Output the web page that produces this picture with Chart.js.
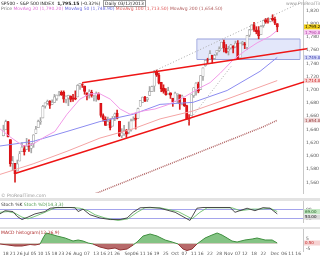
<!DOCTYPE html>
<html>
<head>
<meta charset="utf-8">
<script src="https://cdn.jsdelivr.net/npm/chart.js@4.4.1/dist/chart.umd.min.js"></script>
<style>
body { margin: 0; width: 320px; height: 256px; background: #fff; position: relative; overflow: hidden; font-family: 'DejaVu Sans', sans-serif; }
canvas { position: absolute; left: 0; }
.sep { position: absolute; left: 0; width: 320px; background: #e3e3e3; }
.txt { position: absolute; font-size: 4.5px; line-height: 5px; white-space: nowrap; }
</style>
</head>
<body>
<canvas id="main" width="320" height="198" style="top:0"></canvas>
<div class="sep" style="top:198px;height:3px"></div>
<canvas id="stoch" width="320" height="26" style="top:201px"></canvas>
<div class="sep" style="top:227px;height:2px"></div>
<canvas id="macd" width="320" height="27" style="top:229px"></canvas>

<div class="txt" style="top:1px;left:1px;color:#222">SP500 - S&amp;P 500 INDEX &nbsp;<b>1,795.15</b> (-0.32%) &nbsp;<span style="border:0.5px solid #999;padding:0 1px">Daily 03/12/2013</span></div>
<div class="txt" style="top:6px;left:1px"><span style="color:#777">Price</span> <span style="color:#e070d8">MovAvg 20 (1,790.20)</span> <span style="color:#6a6ae0">MovAvg 50 (1,748.90)</span> <span style="color:#e05858">MovAvg 100 (1,713.50)</span> <span style="color:#b05a5a">MovAvg 200 (1,654.50)</span></div>
<div class="txt" style="top:1px;left:286px;color:#999">www.ProRealTime.com</div>
<div class="txt" style="top:193px;left:1px;color:#999">&copy; ProRealTime.com</div>
<div class="txt" style="top:202px;left:1px"><span style="color:#333">Stoch %K</span> <span style="color:#4a9a4a">Stoch %D(14,3,3)</span></div>
<div class="txt" style="top:230px;left:1px;color:#b03030">MACD histogram(12,26,9)</div>

<script>
// day index 0 = 17 Jun 2013, last candle = 3 Dec 2013
const xMin = -1.47;
const xMax = 129.1;

const openP = [
  1630.6, 1639.8, 1651.8, 1624.6, 1588.6, 1588.8, 1577.5, 1592.3, 1606.4, 1611.1,
  1609.8, 1614.3, 1611.5, 1618.7, 1634.2, 1642.9, 1651.6, 1657.4, 1675.3, 1679.6, 1682.7, 1677.9, 1681.0, 1686.2, 1694.4, 1696.1, 1696.1, 1685.2, 1687.3, 1690.3, 1687.9, 1687.8,
  1689.4, 1706.1, 1708.0, 1705.8, 1695.3, 1693.4, 1696.1, 1688.4, 1690.7, 1693.9, 1679.6, 1661.2, 1655.3, 1646.8, 1650.7, 1645.0, 1659.9, 1664.3, 1652.5, 1630.3, 1633.5, 1638.9,
  1635.9, 1638.8, 1653.3, 1657.4, 1656.9, 1675.1, 1681.0, 1689.2, 1685.0, 1691.7, 1697.7, 1705.7, 1727.3, 1722.4, 1711.4, 1702.6, 1698.0, 1694.1, 1695.5, 1687.3,
  1682.4, 1691.9, 1692.4, 1678.8, 1687.2, 1676.2, 1657.0, 1660.9, 1691.1, 1699.9, 1709.2, 1700.5, 1720.2, 1736.7, 1745.2, 1746.5, 1752.3, 1747.5, 1756.0, 1759.4, 1762.9, 1772.3, 1763.2,
  1758.7, 1763.4, 1765.7, 1765.0, 1770.7, 1748.4, 1770.0, 1769.5, 1764.4, 1782.8, 1790.7, 1798.8, 1790.8, 1789.6, 1783.5, 1797.2, 1806.3, 1802.9, 1803.5, 1808.0,
  1806.6, 1800.1
];
const highP = [
  1646.5, 1654.2, 1652.5, 1624.6, 1599.2, 1588.8, 1593.8, 1606.8, 1620.1, 1615.9,
  1626.6, 1624.3, 1619.0, 1632.1, 1644.7, 1654.2, 1657.9, 1676.6, 1680.2, 1684.5, 1683.7, 1684.8, 1693.1, 1692.1, 1697.6, 1698.4, 1698.4, 1690.9, 1691.9, 1690.9, 1693.2, 1698.4,
  1707.9, 1709.7, 1709.2, 1705.8, 1695.3, 1700.2, 1699.4, 1691.5, 1696.8, 1695.5, 1679.6, 1663.6, 1659.2, 1658.9, 1656.0, 1659.6, 1664.9, 1669.5, 1652.5, 1641.2, 1646.4, 1640.1,
  1651.4, 1655.7, 1659.2, 1664.8, 1672.4, 1684.1, 1689.1, 1690.0, 1688.7, 1705.0, 1705.5, 1729.4, 1729.9, 1725.2, 1711.4, 1707.6, 1701.7, 1703.9, 1695.5, 1687.3,
  1696.6, 1693.9, 1692.4, 1691.9, 1687.2, 1676.8, 1662.6, 1692.6, 1703.4, 1711.0, 1711.6, 1721.8, 1733.4, 1745.3, 1747.8, 1759.3, 1752.3, 1753.7, 1759.8, 1765.0, 1772.1, 1775.2, 1768.5,
  1765.7, 1768.8, 1767.0, 1773.7, 1774.5, 1770.8, 1773.4, 1771.8, 1782.0, 1791.5, 1798.2, 1802.3, 1795.5, 1795.7, 1797.2, 1804.8, 1808.1, 1808.4, 1808.3, 1813.6,
  1810.0, 1800.1
];
const lowP = [
  1630.3, 1639.8, 1628.9, 1584.3, 1577.7, 1560.3, 1577.1, 1592.3, 1606.4, 1601.3,
  1609.8, 1606.8, 1604.6, 1613.0, 1634.2, 1642.9, 1647.7, 1657.4, 1672.3, 1677.9, 1671.8, 1677.9, 1681.0, 1684.1, 1690.7, 1691.5, 1681.0, 1680.2, 1676.0, 1681.9, 1682.4, 1684.9,
  1689.4, 1700.7, 1703.6, 1693.3, 1684.9, 1687.4, 1689.0, 1683.4, 1682.6, 1684.8, 1658.6, 1652.6, 1646.1, 1646.8, 1639.4, 1645.0, 1653.3, 1656.0, 1629.1, 1627.5, 1630.9, 1628.0,
  1633.4, 1637.4, 1653.1, 1640.6, 1656.9, 1675.1, 1681.0, 1682.0, 1682.2, 1691.7, 1697.7, 1697.5, 1720.2, 1708.9, 1697.1, 1694.9, 1691.9, 1693.1, 1687.0, 1675.0,
  1682.1, 1680.3, 1670.4, 1677.3, 1674.7, 1655.0, 1646.5, 1660.9, 1688.5, 1692.1, 1695.5, 1700.5, 1714.1, 1735.7, 1740.6, 1746.5, 1740.5, 1745.5, 1752.5, 1757.7, 1762.9, 1757.2, 1755.7,
  1752.7, 1761.6, 1755.8, 1764.2, 1746.2, 1747.6, 1767.6, 1762.3, 1760.6, 1780.2, 1790.7, 1788.4, 1784.7, 1777.2, 1783.5, 1794.7, 1800.6, 1800.8, 1802.8, 1804.0,
  1798.6, 1787.9
];
const closeP = [
  1639.0, 1651.8, 1628.9, 1588.2, 1592.4, 1573.1, 1588.0, 1603.3, 1613.2, 1606.3,
  1615.0, 1614.1, 1615.4, 1631.9, 1640.5, 1652.3, 1652.6, 1675.0, 1680.2, 1682.5, 1676.3, 1680.9, 1689.4, 1692.1, 1695.5, 1692.4, 1685.9, 1690.3, 1691.7, 1685.3, 1686.0, 1685.7,
  1706.9, 1709.7, 1707.1, 1697.4, 1690.9, 1697.5, 1691.4, 1689.5, 1694.2, 1685.4, 1661.3, 1655.8, 1646.1, 1652.4, 1642.8, 1657.0, 1663.5, 1656.8, 1630.5, 1635.0, 1638.2, 1633.0,
  1639.8, 1653.1, 1655.1, 1655.2, 1671.7, 1684.0, 1689.1, 1683.4, 1688.0, 1697.6, 1704.8, 1725.5, 1722.3, 1709.9, 1701.8, 1697.4, 1692.8, 1698.7, 1691.8, 1681.6,
  1695.0, 1693.9, 1678.7, 1690.5, 1676.1, 1655.5, 1656.4, 1692.6, 1703.2, 1710.1, 1698.1, 1721.5, 1733.2, 1744.5, 1744.7, 1754.7, 1746.4, 1752.1, 1759.8, 1762.1, 1772.0, 1763.3, 1756.5,
  1761.6, 1767.9, 1763.0, 1770.5, 1747.2, 1770.6, 1771.9, 1767.7, 1782.0, 1790.6, 1798.2, 1791.5, 1787.9, 1781.4, 1795.9, 1804.8, 1802.5, 1802.8, 1807.2, 1805.8,
  1800.9, 1795.2
];

// moving averages (day index / value)
const ma20X = [-1.5, 2.8, 8.5, 12.8, 17.9, 22.2, 27.4, 33.0, 37.3, 41.6, 46.0, 50.3, 54.6, 60.2, 65.3, 70.5, 77.4, 84.7, 89.1, 93.4, 98.9, 104.1, 109.3, 114.9, 118];
const ma20Y = [1641, 1629, 1615, 1618, 1629, 1637, 1663, 1686, 1694, 1694, 1686, 1671, 1663, 1668, 1671, 1677, 1688, 1703, 1711, 1725, 1745, 1759, 1771, 1781, 1790];
const ma50X = [-1.5, 12.8, 27.4, 41.6, 55.9, 67.5, 81.7, 96.4, 110.6, 118];
const ma50Y = [1615, 1622, 1637, 1652, 1663, 1678, 1681, 1699, 1728, 1749];
const ma100X = [-1.5, 12.8, 27.4, 41.6, 55.9, 67.5, 81.7, 96.4, 118];
const ma100Y = [1572, 1588, 1607, 1627, 1641, 1656, 1668, 1686, 1714];
const ma200X = [38.2, 67.5, 111.9, 118];
const ma200Y = [1541, 1582, 1644, 1654];

// drawn trendlines: [day index, price]
const supportLine = [[5, 1573.4], [130.9, 1713.5]];
const resistLine = [[33.9, 1710.6], [130.9, 1762.2]];
const channelDots = [[64.9, 1728.3], [127.8, 1831.5]];
const rallyDots = [[79.6, 1651.6], [98.5, 1737.1]];
const zoneX = [83.4, 127.8];
const zoneY = [1745.9, 1776.9];

// stochastic
const kX = [-1.5, 0.7, 4.1, 5.9, 8.0, 10.6, 13.6, 17.9, 20.1, 23.1, 28.7, 30.9, 32.2, 34.3, 37.3, 41.6, 46.0, 50.3, 53.3, 55.9, 58.9, 63.2, 67.5, 74.0, 79.1, 80.4, 83.4, 86.0, 97.7, 99.8, 105.0, 108.4, 111.9, 114.9, 118];
const kY = [53, 75, 69, 36, 14, 31, 53, 69, 92, 97, 97, 95, 69, 86, 47, 25, 14, 14, 25, 64, 95, 98, 92, 64, 19, 8, 92, 97, 97, 64, 92, 75, 96, 92, 53];
const dX = [-1.5, 2, 5, 8, 10.6, 13.6, 17.9, 22.2, 29.6, 33, 36.5, 39.5, 43.8, 49.4, 53.7, 57.6, 61, 67.5, 75.3, 81.3, 84.7, 87.8, 98.5, 102, 107.2, 110.6, 114.9, 118];
const dY = [64, 69, 58, 31, 19, 36, 64, 95, 97, 92, 75, 47, 25, 8, 19, 64, 95, 95, 69, 19, 64, 95, 95, 75, 86, 86, 92, 69];

// MACD histogram
const histX = [-1.5, 2.0, 5.0, 8.0, 11.5, 13.6, 15.8, 17.1, 18.4, 20.1, 23.1, 26.6, 30.0, 32.2, 34.3, 36.5, 38.6, 41.6, 45.1, 48.1, 50.3, 53.3, 55.9, 57.6, 60.2, 63.2, 66.2, 69.7, 72.7, 75.3, 77.4, 79.1, 81.3, 83.4, 86.9, 89.9, 92.1, 94.2, 96.4, 98.5, 100.7, 104.1, 107.2, 109.3, 112.8, 115.8, 118];
const histY = [-0.5, -1.5, -2.5, -2.5, -1, -1.5, -0.5, 5.5, 10.5, 9.5, 7.5, 5.5, 2.5, 3.5, 2.5, 0.5, -0.5, -3.5, -5.5, -4.5, -6.5, -5.5, -1.5, 1.5, 7.5, 9.5, 7.5, 3.5, 1.5, -0.5, -5.5, -7, -5.5, -0.5, 5.5, 8.5, 10.5, 8.5, 5.5, 2.5, 1.5, 3.5, 4.5, 5.5, 3.5, 3.5, 0.5];

// axis ticks
const priceTicks = [1560, 1580, 1600, 1620, 1640, 1660, 1680, 1700, 1720, 1740, 1760, 1780, 1800, 1820];
const stochTicks = [20, 80];
const macdTicks = [-5, 0, 5, 10];
const tickIdx = [1, 4, 7, 10, 13, 16, 19, 22, 25, 28, 32, 36, 40, 43, 46, 49, 54, 57, 60, 63, 66, 70, 74, 78, 82, 85, 89, 93, 97, 101, 104, 108, 112, 117, 121, 124, 127];
const tickText = ['18', '21', '26', 'Jul', '05', '10', '15', '18', '23', '26', 'Aug', '07', '13', '16', '21', '26', 'Sep', '06', '11', '16', '19', '25', 'Oct', '07', '11', '16', '22', '28', 'Nov', '07', '12', '18', '22', 'Dec', '06', '11', '16'];

const fmt = v => v.toLocaleString('en-US', { minimumFractionDigits: 2, maximumFractionDigits: 2 });
const pts = (xs, ys) => xs.map((x, k) => ({ x: x, y: ys[k] }));
const seg = arr => arr.map(p => ({ x: p[0], y: p[1] }));
const isUp = i => closeP[i] >= openP[i];
const tickFont = { size: 4.5, family: 'DejaVu Sans' };

// coloured value boxes on the right axis
const valueBoxes = {
  id: 'valueBoxes',
  afterDraw(chart, args, opts) {
    const y = chart.scales.y;
    const c = chart.ctx;
    const items = (opts.items || []).map(b => ({ ...b, py: y.getPixelForValue(b.v) })).sort((a, b) => a.py - b.py);
    let last = -99;
    c.save();
    c.font = '4px "DejaVu Sans"';
    c.textBaseline = 'middle';
    items.forEach(b => {
      const py = Math.max(b.py, last + 5.5);
      last = py;
      c.fillStyle = b.bg;
      c.fillRect(chart.chartArea.right + 1, py - 2.5, 16, 5);
      c.fillStyle = b.fg;
      c.fillText(fmt(b.v), chart.chartArea.right + 2, py + 0.3);
    });
    c.restore();
  }
};

function xAxis(show) {
  return {
    type: 'linear', min: xMin, max: xMax, offset: false, display: show,
    grid: { display: false, drawTicks: false },
    border: { display: false },
    afterBuildTicks: s => { s.ticks = tickIdx.map(v => ({ value: v })); },
    afterFit: s => { s.height = 5; s.paddingLeft = 0; s.paddingRight = 0; },
    ticks: { autoSkip: false, maxRotation: 0, minRotation: 0, padding: 0.5, font: tickFont, color: '#555',
      callback: (v, i) => tickText[i] }
  };
}

function yAxis(min, max, ticks, label, grid) {
  return {
    position: 'right', min: min, max: max,
    grid: grid || { display: false, drawTicks: false },
    border: { color: '#c8c8c8' },
    afterBuildTicks: s => { s.ticks = ticks.map(v => ({ value: v })); },
    afterFit: s => { s.width = 17; s.paddingTop = 0; s.paddingBottom = 0; },
    ticks: { font: tickFont, color: '#555', padding: 3, callback: label }
  };
}

const baseOpts = {
  responsive: false,
  animation: false,
  devicePixelRatio: 1,
  layout: { padding: 0 },
  events: []
};

new Chart(document.getElementById('main'), {
  type: 'bar',
  data: {
    datasets: [
      { type: 'line', data: seg(supportLine), borderColor: '#ee1515', borderWidth: 1.6, pointRadius: 0, order: 0, clip: { left: 0, top: 0, right: 4, bottom: 0 } },
      { type: 'line', data: seg(resistLine), borderColor: '#ee1515', borderWidth: 1.6, pointRadius: 0, order: 0, clip: { left: 0, top: 0, right: 4, bottom: 0 } },
      { type: 'line', data: seg(channelDots), borderColor: '#a8a8a8', borderWidth: 1, borderDash: [1, 2], pointRadius: 0, order: 0 },
      { type: 'line', data: seg(rallyDots), borderColor: '#a8a8a8', borderWidth: 1, borderDash: [1, 2], pointRadius: 0, order: 0 },
      { type: 'line', data: pts(ma20X, ma20Y), borderColor: '#f29ae8', borderWidth: 1, pointRadius: 0, order: 1 },
      { type: 'line', data: pts(ma50X, ma50Y), borderColor: '#8c8cf0', borderWidth: 1, pointRadius: 0, order: 1 },
      { type: 'line', data: pts(ma100X, ma100Y), borderColor: '#f4a4a4', borderWidth: 1, pointRadius: 0, order: 1 },
      { type: 'line', data: pts(ma200X, ma200Y), borderColor: '#b06262', borderWidth: 1.5, borderDash: [1, 1], pointRadius: 0, order: 1 },
      {
        label: 'body',
        data: closeP.map((c, i) => ({ x: i, y: [Math.min(openP[i], c), Math.max(openP[i], c)] })),
        backgroundColor: ctx => isUp(ctx.dataIndex) ? '#ffffff' : '#e3141a',
        borderColor: ctx => isUp(ctx.dataIndex) ? '#a4a4a4' : '#d01015',
        borderWidth: 0.7, borderSkipped: false, barThickness: 2.4, grouped: false, order: 2
      },
      {
        label: 'wick',
        data: closeP.map((c, i) => ({ x: i, y: [lowP[i], highP[i]] })),
        backgroundColor: ctx => isUp(ctx.dataIndex) ? '#a8a8a8' : '#d82020',
        barThickness: 1, grouped: false, order: 3
      },
      { type: 'line', data: pts(zoneX, [zoneY[1], zoneY[1]]), borderColor: '#9aa2dc', borderWidth: 1, pointRadius: 0, order: 4 },
      { type: 'line', data: pts(zoneX, [zoneY[0], zoneY[0]]), borderColor: '#9aa2dc', borderWidth: 1, pointRadius: 0, order: 4,
        fill: '-1', backgroundColor: 'rgba(200, 208, 246, 0.5)' },
      { type: 'line', data: pts([zoneX[0], zoneX[0]], zoneY), borderColor: '#9aa2dc', borderWidth: 1, pointRadius: 0, order: 4 },
      { type: 'line', data: pts([zoneX[1], zoneX[1]], zoneY), borderColor: '#9aa2dc', borderWidth: 1, pointRadius: 0, order: 4 }
    ]
  },
  options: {
    ...baseOpts,
    plugins: {
      legend: { display: false }, tooltip: { enabled: false },
      valueBoxes: { items: [
        { v: closeP[closeP.length - 1], bg: '#f2d11c', fg: '#000' },
        { v: ma20Y[ma20Y.length - 1], bg: '#f8cdf2', fg: '#a8309e' },
        { v: ma50Y[ma50Y.length - 1], bg: '#d4d8f8', fg: '#3434a8' },
        { v: ma100Y[ma100Y.length - 1], bg: '#f9d2d2', fg: '#c82020' },
        { v: ma200Y[ma200Y.length - 1], bg: '#f1dada', fg: '#903030' }
      ] }
    },
    scales: {
      x: xAxis(false),
      y: yAxis(1543.9, 1835.9, priceTicks, v => v.toLocaleString('en-US'))
    }
  },
  plugins: [valueBoxes]
});

new Chart(document.getElementById('stoch'), {
  type: 'line',
  data: {
    datasets: [
      { data: pts(kX, kY), borderColor: '#3a3a3a', borderWidth: 0.9, pointRadius: 0 },
      { data: pts(dX, dY), borderColor: '#6cbf6c', borderWidth: 0.9, pointRadius: 0 }
    ]
  },
  options: {
    ...baseOpts,
    plugins: {
      legend: { display: false }, tooltip: { enabled: false },
      valueBoxes: { items: [
        { v: dY[dY.length - 1], bg: '#c4e8c4', fg: '#206020' },
        { v: kY[kY.length - 1], bg: '#dadada', fg: '#111' }
      ] }
    },
    scales: {
      x: xAxis(false),
      y: yAxis(-2.8, 141.7, stochTicks, v => v, { color: '#a4a4ec', drawTicks: false })
    }
  },
  plugins: [valueBoxes]
});

new Chart(document.getElementById('macd'), {
  type: 'line',
  data: {
    datasets: [{
      data: pts(histX, histY),
      borderWidth: 1, pointRadius: 0,
      segment: { borderColor: ctx => (ctx.p0.parsed.y + ctx.p1.parsed.y) >= 0 ? '#3f8f3f' : '#8f3333' },
      fill: { target: { value: 0 }, above: 'rgba(110, 185, 110, 0.85)', below: 'rgba(170, 80, 80, 0.85)' }
    }]
  },
  options: {
    ...baseOpts,
    plugins: {
      legend: { display: false }, tooltip: { enabled: false },
      valueBoxes: { items: [{ v: histY[histY.length - 1], bg: '#f6d2d2', fg: '#c02020' }] }
    },
    scales: {
      x: xAxis(true),
      y: yAxis(-7.5, 14.5, macdTicks, v => v, { color: ctx => ctx.tick && ctx.tick.value === 0 ? '#9090d8' : 'rgba(0,0,0,0)', drawTicks: false })
    }
  },
  plugins: [valueBoxes]
});
</script>
</body>
</html>
